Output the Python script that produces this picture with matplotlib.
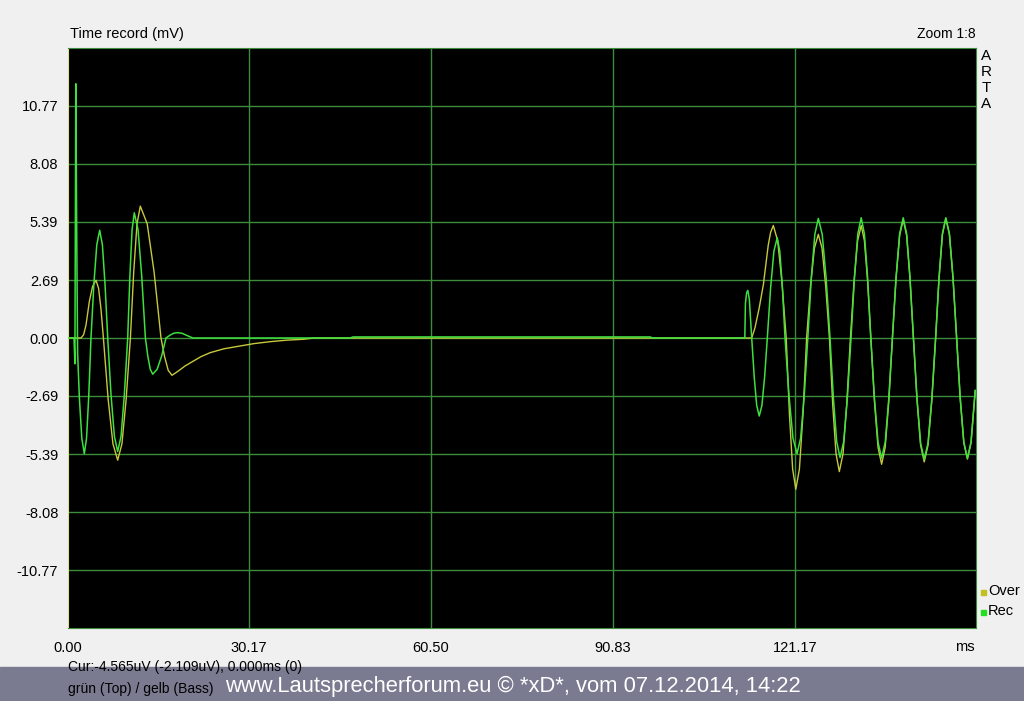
import matplotlib
matplotlib.use("Agg")
from matplotlib import pyplot as plt

plt.rcParams['font.family'] = ['Liberation Sans', 'DejaVu Sans']

# Werte (ms / mV)
x_ticks = [0.00, 30.17, 60.50, 90.83, 121.17]
x_labels = ["0.00", "30.17", "60.50", "90.83", "121.17"]
y_ticks = [-10.77, -8.08, -5.39, -2.69, 0.00, 2.69, 5.39, 8.08, 10.77]
y_labels = ["-10.77", "-8.08", "-5.39", "-2.69", "0.00", "2.69", "5.39", "8.08", "10.77"]

# grün = Rec (Top)
rec_t = [0.0, 1.0, 1.15, 1.3, 1.45, 1.6, 1.9, 2.3, 2.72, 3.09, 3.46, 3.83,
         4.31, 4.8, 5.28, 5.73, 6.17, 6.62, 7.17, 7.73, 8.28, 8.84, 9.39, 9.95,
         10.32, 10.68, 11.05, 11.67, 12.28, 12.9, 13.3, 13.71, 14.12, 14.86, 15.6, 16.33,
         17.0, 17.6, 18.28, 19.0, 19.8, 20.8, 47.0, 47.5, 97.0, 97.5, 112.8,
         112.9, 113.1, 113.3, 113.55, 113.95, 114.37, 114.78, 115.2, 115.65, 116.1, 116.55,
         117.1, 117.65, 118.2, 118.63, 119.07, 119.5, 120.17, 120.83, 121.5, 122.1, 122.7, 123.3,
         123.88, 124.47, 125.05, 125.7, 126.35, 127.0, 127.56, 128.11, 128.67, 129.28, 129.89, 130.5,
         131.07, 131.63, 132.2, 132.73, 133.27, 133.8, 134.4, 135.0, 135.6, 136.2, 136.8, 137.4,
         138.0, 138.6, 139.2, 139.77, 140.33, 140.9, 141.5, 142.1, 142.7, 143.33, 143.97, 144.6,
         145.17, 145.73, 146.3, 146.9, 147.5, 148.1, 148.7, 149.3, 149.9, 150.5, 151.2]
rec_v = [0.0, 0.0, -1.2, 11.8, 5.0, -0.7, -2.8, -4.65, -5.37, -4.65, -2.69, 0.0,
         2.5, 4.33, 5.0, 4.33, 2.5, 0.0, -2.64, -4.56, -5.27, -4.56, -2.64, 0.0,
         2.9, 5.03, 5.81, 5.03, 2.9, 0.0, -0.84, -1.45, -1.68, -1.45, -0.84, 0.0,
         0.13, 0.22, 0.25, 0.22, 0.12, 0.0, 0.0, 0.05, 0.05, 0.0, 0.0,
         1.6, 2.1, 2.21, 1.8, 0.0, -1.81, -3.13, -3.62, -3.13, -1.81, 0.0,
         2.33, 4.03, 4.65, 4.03, 2.33, 0.0, -2.69, -4.65, -5.37, -4.65, -2.69, 0.0,
         2.78, 4.81, 5.55, 4.81, 2.78, 0.0, -2.78, -4.81, -5.55, -4.81, -2.78, 0.0,
         2.79, 4.83, 5.58, 4.83, 2.79, 0.0, -2.79, -4.83, -5.58, -4.83, -2.79, 0.0,
         2.79, 4.83, 5.58, 4.83, 2.79, 0.0, -2.82, -4.88, -5.63, -4.88, -2.82, 0.0,
         2.79, 4.83, 5.58, 4.83, 2.79, 0.0, -2.79, -4.83, -5.58, -4.83, -2.43]

# gelb = Over (Bass)
over_t = [0.0, 2.17, 2.6, 3.0, 3.56, 4.1, 4.67, 5.1, 5.5, 5.9,
          6.69, 7.49, 8.28, 8.99, 9.69, 10.4, 10.95, 11.5, 12.05, 13.2, 14.35, 15.5,
          16.1, 16.7, 17.33, 18.3, 19.5, 20.9, 22.2, 23.7, 26.0, 28.7, 31.0, 33.7, 36.5, 39.2, 41.0,
          113.95, 114.5, 115.2, 115.9, 116.7, 117.1, 117.55, 118.27, 118.98, 119.7,
          120.23, 120.77, 121.3, 121.9, 122.5, 123.1, 123.75, 124.4, 125.05, 125.67, 126.28, 126.9,
          127.45, 128.0, 128.55, 129.17, 129.78, 130.4, 131.0, 131.6, 132.2, 132.73, 133.27, 133.8,
          134.4, 135.0, 135.6, 136.2, 136.8, 137.4, 138.0, 138.6, 139.2, 139.77, 140.33, 140.9,
          141.5, 142.1, 142.7, 143.33, 143.97, 144.6, 145.17, 145.73, 146.3, 146.9, 147.5, 148.1,
          148.7, 149.3, 149.9, 150.5, 151.2]
over_v = [0.0, 0.0, 0.15, 0.6, 1.7, 2.4, 2.68, 2.3, 1.34, 0.0,
          -2.84, -4.91, -5.67, -4.91, -2.84, 0.0, 3.06, 5.3, 6.12, 5.3, 3.06, 0.0,
          -0.87, -1.5, -1.73, -1.55, -1.3, -1.07, -0.86, -0.68, -0.5, -0.37, -0.26, -0.17, -0.1, -0.06, 0.0,
          0.0, 0.48, 1.4, 2.49, 4.3, 4.9, 5.22, 4.52, 2.61, 0.0,
          -3.51, -6.08, -7.02, -6.08, -3.51, 0.0, 2.41, 4.17, 4.81, 4.17, 2.41, 0.0,
          -3.1, -5.37, -6.2, -5.37, -3.1, 0.0, 2.61, 4.52, 5.22, 4.52, 2.61, 0.0,
          -2.93, -5.07, -5.86, -5.07, -2.93, 0.0, 2.75, 4.76, 5.5, 4.76, 2.75, 0.0,
          -2.88, -4.98, -5.75, -4.98, -2.88, 0.0, 2.78, 4.81, 5.55, 4.81, 2.78, 0.0,
          -2.81, -4.87, -5.62, -4.87, -2.45]

W, H = 1024, 701
fig = plt.figure(figsize=(W / 100, H / 100), dpi=100, facecolor='#f0f0f0')
ax = fig.add_axes([68 / W, 1 - 628 / H, 908 / W, 580 / H])
ax.set_facecolor('black')

grid_c = '#3c8c3c'
for v in y_ticks:
	ax.axhline(v, color=grid_c, lw=1.0, zorder=1)
for t in x_ticks[1:]:
	ax.axvline(t, color=grid_c, lw=1.0, zorder=1)

ax.plot(over_t, over_v, color='#c8c83c', lw=1.0, zorder=2)
ax.plot(rec_t, rec_v, color='#3ee03e', lw=1.1, zorder=3)

ax.set_xlim(0, 151.33)
ax.set_ylim(-13.46, 13.46)
ax.set_xticks(x_ticks)
ax.set_xticklabels(x_labels)
ax.set_yticks(y_ticks)
ax.set_yticklabels(y_labels)
ax.tick_params(length=0, labelsize=10.5, colors='black')
ax.tick_params(axis='y', pad=7)
ax.tick_params(axis='x', pad=9)
for s in ax.spines.values():
	s.set_color(grid_c)
ax.spines['left'].set_color('#e0e08c')

def px(x, y):
	return x / W, 1 - y / H

fig.text(*px(70, 34), "Time record (mV)", fontsize=10.5, va='center', ha='left')
fig.text(*px(976, 34), "Zoom 1:8", fontsize=10, va='center', ha='right')
fig.text(*px(965, 647), "ms", fontsize=10.5, va='center', ha='center')
for i, ch in enumerate("ARTA"):
	fig.text(*px(986, 56 + i * 16), ch, fontsize=11, va='center', ha='center')

# Legende
fig.patches.append(plt.Rectangle(px(981, 595), 5 / W, 5 / H, color='#c0c020', transform=fig.transFigure))
fig.text(*px(988, 591), "Over", fontsize=10.5, va='center', ha='left')
fig.patches.append(plt.Rectangle(px(981, 615), 5 / W, 5 / H, color='#20e020', transform=fig.transFigure))
fig.text(*px(988, 611), "Rec", fontsize=10.5, va='center', ha='left')

# Banner unten
fig.patches.append(plt.Rectangle((0, 0), 1, 34 / H, color='#7a7a90', transform=fig.transFigure, zorder=0))
fig.text(*px(68, 667), "Cur:-4.565uV (-2.109uV), 0.000ms (0)", fontsize=10, va='center', ha='left')
fig.text(*px(68, 689), "grün (Top) / gelb (Bass)", fontsize=10, va='center', ha='left')
fig.text(*px(513, 686), "www.Lautsprecherforum.eu © *xD*, vom 07.12.2014, 14:22", fontsize=15.8,
	color='white', va='center', ha='center')

plt.savefig("out.png", dpi=100, facecolor=fig.get_facecolor())
